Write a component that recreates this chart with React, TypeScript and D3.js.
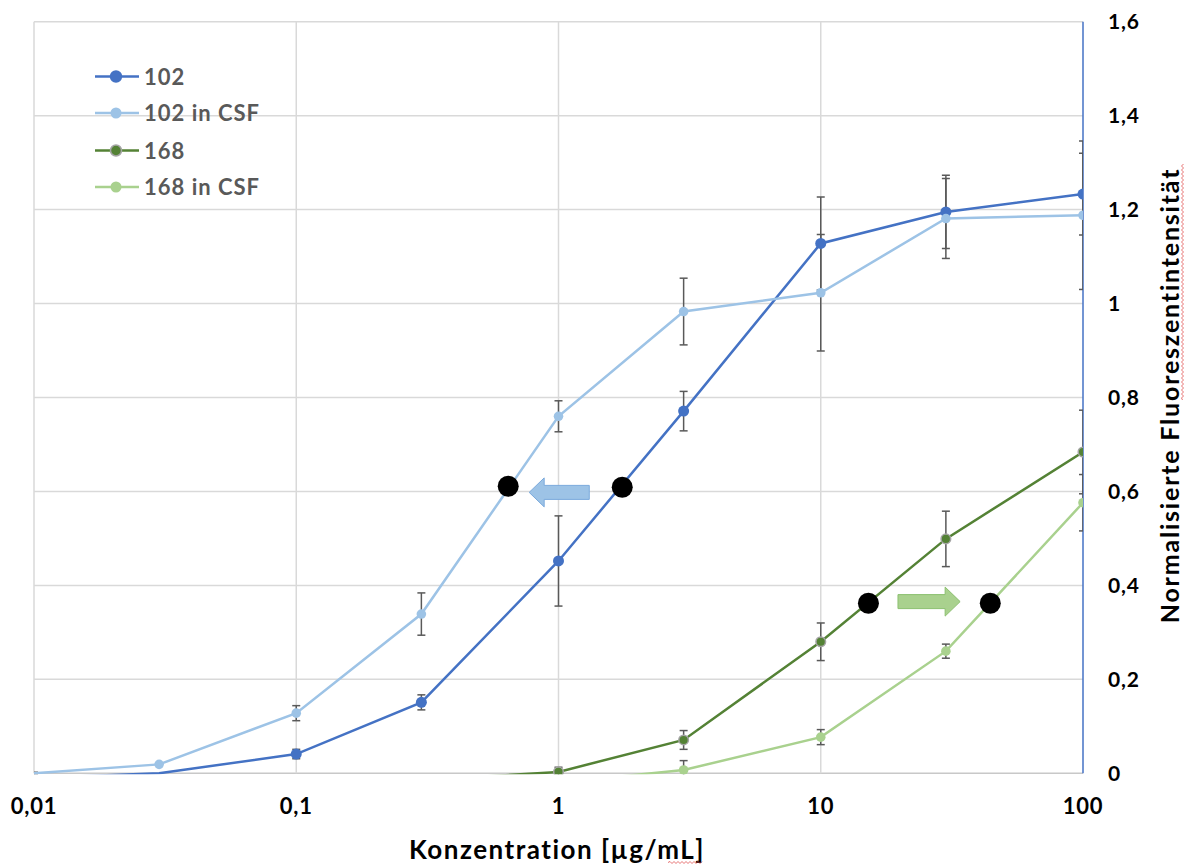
import React from "react";
import * as d3 from "d3";

// ---------- data ----------
const X_ALL = [0.01, 0.03, 0.1, 0.3, 1, 3, 10, 30, 100];
const Y_102 = [-0.01, 0, 0.041, 0.151, 0.452, 0.771, 1.128, 1.195, 1.233];
const E_102 = [0, 0, 0.01, 0.016, 0.096, 0.042, 0.099, 0.078, 0.087];
const Y_102_CSF = [0, 0.019, 0.128, 0.339, 0.76, 0.983, 1.023, 1.181, 1.188];
const E_102_CSF = [0.002, 0, 0.016, 0.045, 0.033, 0.071, 0.124, 0.085, 0.158];
const X_168 = [0.3, 1, 3, 10, 30, 100];
const Y_168 = [-0.015, 0.003, 0.071, 0.28, 0.499, 0.684];
const E_168 = [0, 0.01, 0.02, 0.04, 0.059, 0.089];
const X_168_CSF = [1, 3, 10, 30, 100];
const Y_168_CSF = [-0.02, 0.007, 0.077, 0.26, 0.576];
const E_168_CSF = [0, 0.02, 0.016, 0.015, 0.06];

const X_TICKS = [0.01, 0.1, 1, 10, 100];
const X_TICK_LABELS = ["0,01", "0,1", "1", "10", "100"];
const Y_TICKS = [0, 0.2, 0.4, 0.6, 0.8, 1, 1.2, 1.4, 1.6];
const Y_TICK_LABELS = ["0", "0,2", "0,4", "0,6", "0,8", "1", "1,2", "1,4", "1,6"];

// EC50 markers (black dots) and shift arrows
const DOT_X = [0.643, 1.75, 15.2, 44.3];
const DOT_Y = [0.611, 0.609, 0.362, 0.362];
const ARROW_BLUE = { from: 1.31, to: 0.773, y: 0.598 };
const ARROW_GREEN = { from: 19.7, to: 34.0, y: 0.3655 };

const X_TITLE = "Konzentration [µg/mL]";
const Y_TITLE = "Normalisierte Fluoreszentintensität";

type Series = { name: string; xs: number[]; ys: number[]; es: number[]; color: string; r: number; ring?: string };

const SERIES: Series[] = [
  { name: "102", xs: X_ALL, ys: Y_102, es: E_102, color: "#4472c4", r: 5.5 },
  { name: "102 in CSF", xs: X_ALL, ys: Y_102_CSF, es: E_102_CSF, color: "#9dc3e6", r: 4.8 },
  { name: "168", xs: X_168, ys: Y_168, es: E_168, color: "#548235", r: 4.8, ring: "#a5a5a5" },
  { name: "168 in CSF", xs: X_168_CSF, ys: Y_168_CSF, es: E_168_CSF, color: "#a9d18e", r: 4.8 },
];

const W = 1190;
const H = 865;
const X0 = 34, X1 = 1083, Y0 = 773.3, Y1 = 21.7;
const FONT = "Lato, 'Open Sans', sans-serif";

function wavy(x1: number, y1: number, x2: number, y2: number, amp = 1.5, step = 3) {
  const dx = x2 - x1, dy = y2 - y1;
  const len = Math.hypot(dx, dy);
  const ux = dx / len, uy = dy / len;
  const nx = -uy, ny = ux;
  const n = Math.floor(len / step);
  let d = `M${x1},${y1}`;
  for (let i = 1; i <= n; i++) {
    const s = (i % 2 === 0 ? 1 : -1) * amp;
    d += ` L${x1 + ux * i * step + nx * s},${y1 + uy * i * step + ny * s}`;
  }
  return d;
}

export default function App() {
  const x = d3.scaleLog().domain([0.01, 100]).range([X0, X1]);
  const y = d3.scaleLinear().domain([0, 1.6]).range([Y0, Y1]);
  const line = d3
    .line<[number, number]>()
    .x((d) => x(d[0]))
    .y((d) => y(d[1]));

  const arrowPath = (a: { from: number; to: number; y: number }) => {
    const xs = x(a.from), xt = x(a.to), yc = y(a.y);
    const dir = Math.sign(xt - xs);
    const headLen = 15, bodyH = 7, headH = 14.5;
    const xb = xt - dir * headLen;
    return `M${xs},${yc - bodyH} L${xb},${yc - bodyH} L${xb},${yc - headH} L${xt},${yc} L${xb},${yc + headH} L${xb},${yc + bodyH} L${xs},${yc + bodyH} Z`;
  };

  const legendY = [76.5, 113, 150.5, 187];

  return (
    <svg width={W} height={H} style={{ position: "absolute", left: 0, top: 0, background: "#fff" }} fontFamily={FONT}>
      <defs>
        <clipPath id="plot">
          <rect x={X0} y={Y1 - 2} width={X1 - X0} height={Y0 - Y1 + 3} />
        </clipPath>
      </defs>
      <rect x={0} y={0} width={W} height={H} fill="#fff" />
      {/* grid */}
      {Y_TICKS.map((t) => (
        <line key={"gy" + t} x1={X0} x2={X1} y1={y(t)} y2={y(t)} stroke={t === 0 ? "#c8c8c8" : "#d9d9d9"} strokeWidth={1.5} />
      ))}
      {X_TICKS.slice(0, -1).map((t) => (
        <line key={"gx" + t} x1={x(t)} x2={x(t)} y1={Y1} y2={Y0} stroke="#d9d9d9" strokeWidth={1.5} />
      ))}
      {/* right axis line */}
      <line x1={X1} x2={X1} y1={Y1} y2={Y0} stroke="#4472c4" strokeWidth={1.5} />

      <g clipPath="url(#plot)">
        {/* error bars */}
        {SERIES.map((s) =>
          s.xs.map((xv, i) => {
            const e = s.es[i];
            if (!e) return null;
            const cx = x(xv), yt = y(s.ys[i] + e), yb = y(s.ys[i] - e);
            return (
              <g key={s.name + "e" + i} stroke="#595959" strokeWidth={1.5}>
                <line x1={cx} x2={cx} y1={yt} y2={yb} />
                <line x1={cx - 4} x2={cx + 4} y1={yt} y2={yt} />
                <line x1={cx - 4} x2={cx + 4} y1={yb} y2={yb} />
              </g>
            );
          })
        )}
        {/* lines */}
        {SERIES.map((s) => (
          <path
            key={s.name + "l"}
            d={line(s.xs.map((xv, i) => [xv, s.ys[i]] as [number, number])) || ""}
            fill="none"
            stroke={s.color}
            strokeWidth={2.5}
          />
        ))}
        {/* markers */}
        {SERIES.map((s) =>
          s.xs.map((xv, i) =>
            s.ys[i] > 0 ? (
              <circle
                key={s.name + "m" + i}
                cx={x(xv)}
                cy={y(s.ys[i])}
                r={s.r}
                fill={s.color}
                stroke={s.ring || "none"}
                strokeWidth={s.ring ? 1.5 : 0}
              />
            ) : null
          )
        )}
      </g>

      {/* arrows */}
      <path d={arrowPath(ARROW_BLUE)} fill="#9dc3e6" stroke="#7aa9dc" strokeWidth={1} />
      <path d={arrowPath(ARROW_GREEN)} fill="#a9d18e" stroke="#8cc070" strokeWidth={1} />
      {/* black dots */}
      {DOT_X.map((dx, i) => (
        <circle key={"dot" + i} cx={x(dx)} cy={y(DOT_Y[i])} r={10.5} fill="#000" />
      ))}

      {/* x tick labels */}
      {X_TICKS.map((t, i) => (
        <text key={"xl" + t} x={x(t)} y={814} textAnchor="middle" fontSize={22} fontWeight={700} fill="#000" letterSpacing={0.8}>
          {X_TICK_LABELS[i]}
        </text>
      ))}
      {/* y tick labels (right) */}
      {Y_TICKS.map((t, i) => (
        <text key={"yl" + t} x={1108} y={y(t) + 7.5} textAnchor="start" fontSize={21} fontWeight={700} fill="#000" letterSpacing={0.8}>
          {Y_TICK_LABELS[i]}
        </text>
      ))}

      {/* axis titles */}
      <text x={557} y={859} textAnchor="middle" fontSize={26} fontWeight={700} fill="#000" letterSpacing={1.5}>
        {X_TITLE}
      </text>
      <path d={wavy(668, 862.5, 702, 862.5, 1, 2)} stroke="#e05050" strokeWidth={0.8} fill="none" />
      <text
        transform={`translate(1179, ${(164 + 627) / 2}) rotate(-90)`}
        textAnchor="middle"
        fontSize={25}
        fontWeight={700}
        fill="#000"
        letterSpacing={1.8}
      >
        {Y_TITLE}
      </text>
      <path d={wavy(1182.5, 400, 1182.5, 163, 1, 2)} stroke="#e05050" strokeWidth={0.8} fill="none" />

      {/* legend */}
      {SERIES.map((s, i) => (
        <g key={"lg" + s.name}>
          <line x1={95} x2={139} y1={legendY[i]} y2={legendY[i]} stroke={s.color} strokeWidth={2.5} />
          <circle cx={116} cy={legendY[i]} r={s.r + 0.7} fill={s.color} stroke={s.ring || "none"} strokeWidth={s.ring ? 1.5 : 0} />
          <text x={144} y={legendY[i] + 8} fontSize={22} fontWeight={700} fill="#595959" letterSpacing={1}>
            {s.name}
          </text>
        </g>
      ))}
    </svg>
  );
}
